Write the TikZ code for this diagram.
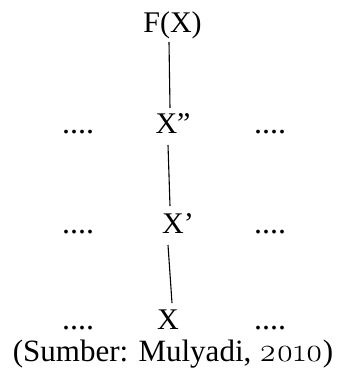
\documentclass[tikz,border=0pt]{standalone}
\usepackage{fontspec}
\setmainfont{Liberation Serif}
\newfontfamily\oldnum[Numbers=OldStyle]{Latin Modern Roman}
\usetikzlibrary{calc}
\tikzset{
  lbl/.style={anchor=base, inner sep=0pt, font=\fontsize{30}{32}\selectfont},
  dots/.style={anchor=base, inner sep=0pt, font=\fontsize{32}{34}\selectfont},
  capt/.style={anchor=base, inner sep=0pt, font=\fontsize{31}{33}\selectfont},
  link/.style={draw=black, line width=1.1pt}
}
\begin{document}
\begin{tikzpicture}[x=1pt,y=-1pt]
\useasboundingbox (0,0) rectangle (338,369);
\node[lbl] (fx) at (172.5,33) {F(X)};
\node[lbl] (x2) at (173,133) {X”};
\node[lbl] (x1) at (178,233) {X’};
\node[lbl] (x0) at (168,329) {X};
\node[dots] (l2) at (78,133) {....};
\node[dots] (r2) at (270,133) {....};
\node[dots] (l1) at (78,233) {....};
\node[dots] (r1) at (270,233) {....};
\node[dots] (l0) at (78,329) {....};
\node[dots] (r0) at (270,329) {....};
\node[capt] (cap) at (173,361) {(Sumber: Mulyadi, {\oldnum\fontsize{33}{36}\selectfont 2010})};
\draw[link] ($(fx.base)+(-3.5,9)$) -- ($(x2.base)+(-3,-25)$);
\draw[link] ($(x2.base)+(-5,12)$) -- ($(x1.base)+(-8,-27)$);
\draw[link] ($(x1.base)+(-10,12)$) -- ($(x0.base)+(4,-26)$);
\end{tikzpicture}
\end{document}
